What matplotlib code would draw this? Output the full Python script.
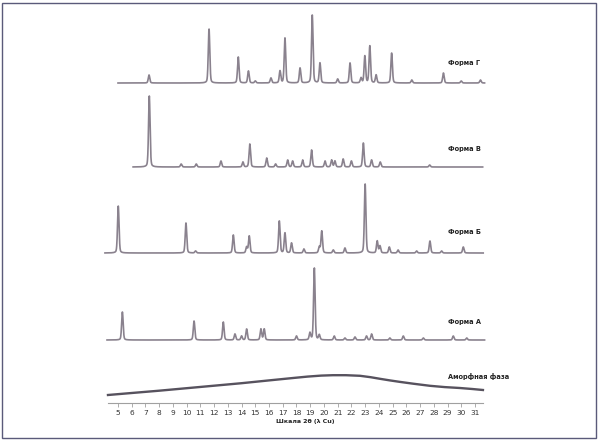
import numpy as np
import matplotlib
matplotlib.use("Agg")
import matplotlib.pyplot as plt
from matplotlib.patches import Rectangle

# ---------------- data (2θ positions, relative intensities) ----------------
labels = ["Форма Г", "Форма В", "Форма Б", "Форма А", "Аморфная фаза"]

g_pos = [7.26, 11.63, 13.76, 14.5, 15.0, 16.14, 16.8, 17.16, 18.26, 19.15, 19.71,
         21.0, 21.9, 22.7, 22.98, 23.34, 23.8, 24.93, 26.4, 28.7, 30.0, 31.4]
g_int = [8, 54, 26, 12, 2, 5, 12, 45, 15, 68, 20,
         4, 20, 5, 27, 37, 8, 30, 3, 10, 2, 3]
g_range = [5.0, 31.7]

v_pos = [7.28, 9.6, 10.7, 12.5, 14.1, 14.6, 15.83, 16.48, 17.36, 17.72, 18.45,
         19.1, 20.08, 20.56, 20.8, 21.4, 22.0, 22.87, 23.47, 24.1, 27.7]
v_int = [71, 3, 3, 6, 5, 23, 9, 3, 7, 6, 7,
         17, 6, 7, 6, 8, 6, 24, 7, 5, 2]
v_range = [6.1, 31.56]

b_pos = [5.02, 9.95, 10.65, 13.4, 14.37, 14.56, 16.75, 17.16, 17.64, 18.54, 19.66,
         19.84, 20.68, 21.53, 23.0, 23.88, 24.08, 24.76, 25.4, 26.75, 27.72, 28.57, 30.15]
b_int = [47, 30, 2, 18, 6, 17, 32, 20, 10, 4, 6,
         22, 3, 5, 69, 12, 7, 6, 3, 2, 12, 2, 6]
b_range = [4.05, 31.6]

a_pos = [5.32, 10.54, 12.67, 13.52, 14.0, 14.37, 15.41, 15.65, 18.0, 18.98, 19.3,
         19.66, 20.75, 21.53, 22.26, 23.1, 23.47, 24.8, 25.78, 27.24, 29.42, 30.4]
a_int = [28, 19, 18, 6, 4, 11, 11, 11, 4, 7, 72,
         5, 4, 2, 3, 4, 6, 2, 4, 2, 4, 2]
a_range = [4.2, 31.7]

amorph_2theta = [4.27, 6.0, 8.0, 10.0, 12.0, 14.0, 16.0, 17.75, 18.8, 19.8, 20.66,
                 21.6, 22.63, 23.4, 24.08, 24.8, 25.54, 26.5, 27.72, 28.8, 29.9,
                 30.8, 31.58]
amorph_int = [0, 2, 4.3, 6.8, 9.3, 11.8, 14.6, 17, 18.4, 19.4, 19.8,
              19.8, 19.2, 17.8, 16.2, 14.6, 13.1, 11.3, 9.2, 7.9, 7,
              6, 5]

xticks = list(range(5, 32))
xlabel = "Шкала 2θ (λ Cu)"

# ---------------- layout ----------------
W, H = 599, 441
fig = plt.figure(figsize=(W / 100, H / 100), dpi=100)
ax = fig.add_axes([0, 0, 1, 1])
px_per_deg = 13.73
x0_px = 118
ax.set_xlim(5 - x0_px / px_per_deg, 5 + (W - x0_px) / px_per_deg)
ax.set_ylim(0, H)

baselines = [H - 83, H - 167, H - 253, H - 340]
amorph_base = H - 395
label_y = [H - 63, H - 149, H - 232, H - 322, H - 376]
label_x = 5 + (448 - x0_px) / px_per_deg

line_color = "#8a828e"
fwhm = 0.13


def profile(pos, inten, rng):
    x = np.linspace(rng[0], rng[1], 3000)
    y = np.zeros_like(x)
    s = fwhm / 2.3548
    for p, h in zip(pos, inten):
        g = np.exp(-0.5 * ((x - p) / s) ** 2)
        lz = 1.0 / (1 + ((x - p) / (fwhm / 2)) ** 2)
        y += h * (0.7 * g + 0.3 * lz)
    return x, y


series = [(g_pos, g_int, g_range), (v_pos, v_int, v_range),
          (b_pos, b_int, b_range), (a_pos, a_int, a_range)]
for (pos, inten, rng), base in zip(series, baselines):
    x, y = profile(pos, inten, rng)
    ax.plot(x, base + y, color=line_color, lw=1.2, solid_joinstyle="round")

ax.plot(amorph_2theta, amorph_base + np.array(amorph_int), color="#57525e", lw=1.7)

for lab, ly in zip(labels, label_y):
    ax.text(label_x, ly, lab, fontsize=4.8, fontweight="bold", color="#222222",
            ha="left", va="center")

# x-axis
for s in ["top", "right", "left"]:
    ax.spines[s].set_visible(False)
ax.spines["bottom"].set_position(("data", H - 403))
ax.spines["bottom"].set_bounds(4.3, 31.6)
ax.spines["bottom"].set_color("#a0a0a0")
ax.spines["bottom"].set_linewidth(0.8)
ax.spines["bottom"].set_linestyle((0, (2, 1)))
ax.set_xticks(xticks)
ax.set_xticklabels([str(t) for t in xticks])
ax.tick_params(axis="x", direction="out", length=3, width=0.6, color="#a0a0a0",
               labelsize=5.3, pad=2, labelcolor="#333333")
ax.set_yticks([])
ax.patch.set_alpha(0)

fig.text(305 / W, 1 - 422 / H, xlabel, fontsize=4.5, fontweight="bold",
         color="#222222", ha="center", va="center")

fig.patches.append(Rectangle((2 / W, 3 / H), (W - 5) / W, (H - 6) / H,
                             transform=fig.transFigure, fill=False,
                             edgecolor="#5a5a7a", lw=1.0))

fig.savefig("out.png", dpi=100)
